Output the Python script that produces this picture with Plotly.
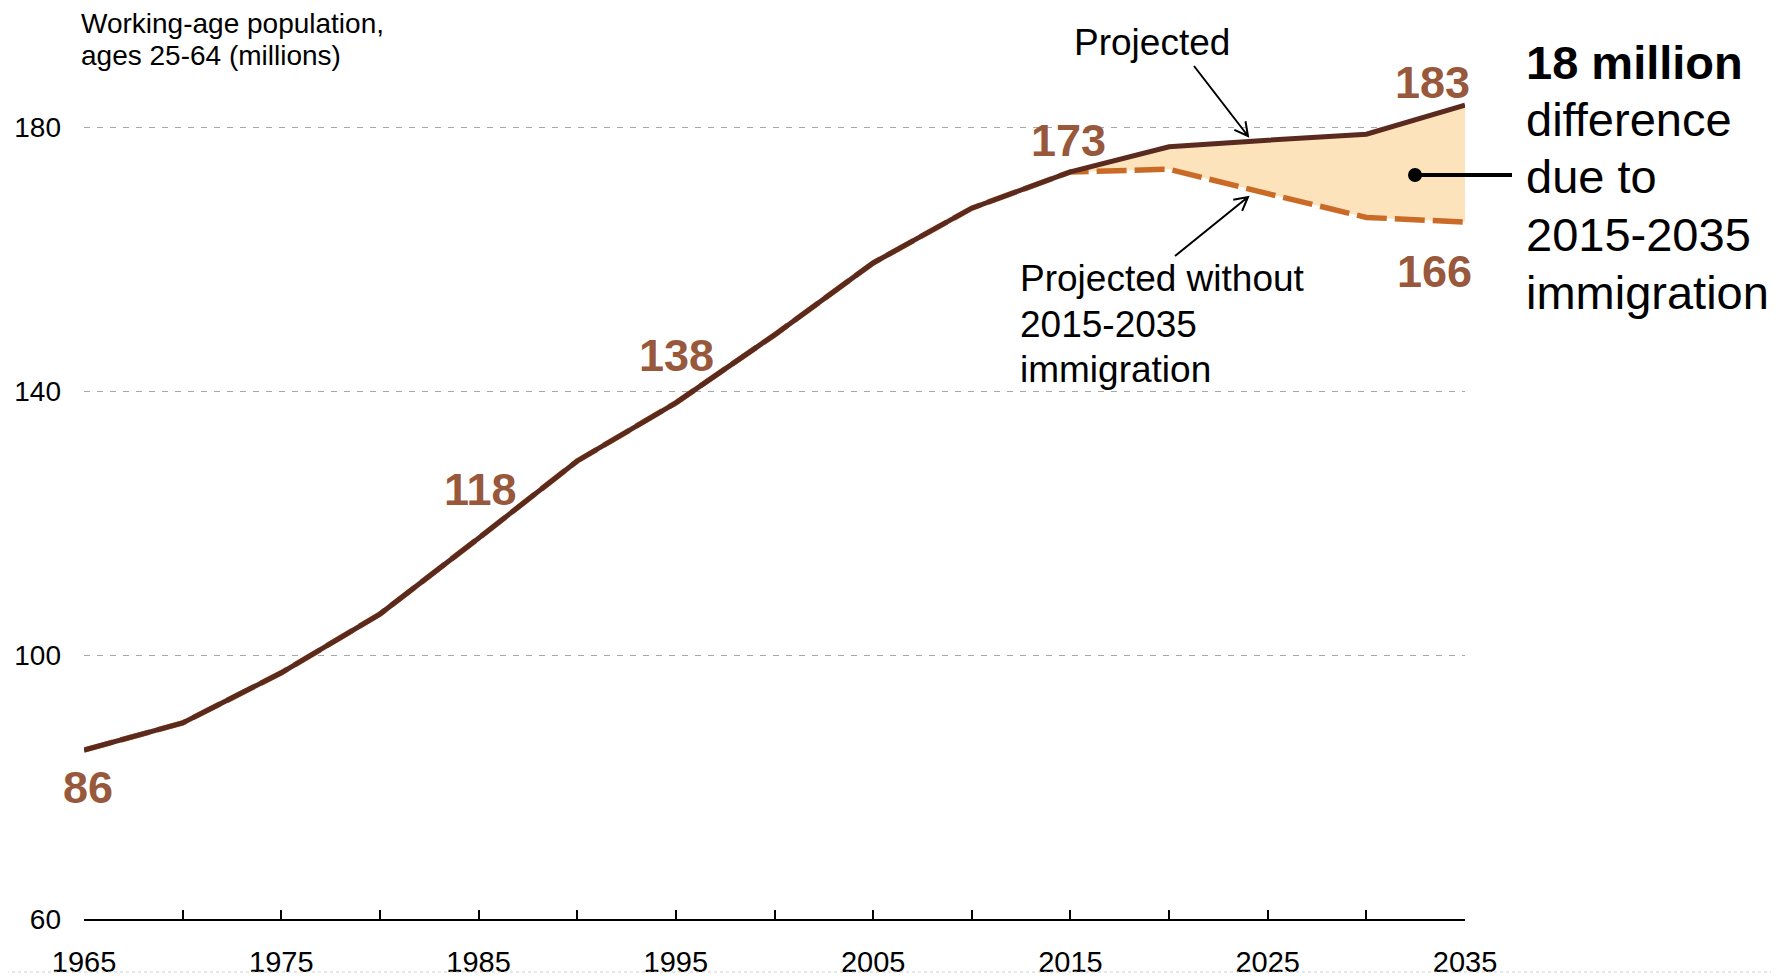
import math
import plotly.graph_objects as go

# ---------------- data ----------------
years = [1965, 1970, 1975, 1980, 1985, 1990, 1995, 2000, 2005, 2010, 2015, 2020, 2025, 2030, 2035]
projected = [85.6, 89.7, 97.3, 106.2, 117.7, 129.4, 138.2, 148.5, 159.4, 167.7, 173.2, 177.0, 178.0, 178.9, 183.3]
without_immigration = [85.6, 89.7, 97.3, 106.2, 117.7, 129.4, 138.2, 148.5, 159.4, 167.7, 173.2, 173.6, 169.9, 166.3, 165.6]
proj_start_year = 2015
x_tick_vals = [1965, 1970, 1975, 1980, 1985, 1990, 1995, 2000, 2005, 2010, 2015, 2020, 2025, 2030, 2035]
x_tick_text = ["1965", "", "1975", "", "1985", "", "1995", "", "2005", "", "2015", "", "2025", "", "2035"]
y_tick_vals = [60, 100, 140, 180]
y_tick_text = ["60", "100", "140", "180"]

# ---------------- layout geometry ----------------
W, H = 1779, 976
OFF = 8  # page offset of the figure in the browser
L, R, T, B = 76, 322, 53, 65
PW, PH = W - L - R, H - T - B
XR = [1965, 2035]
YR = [60, 190]
PX_PER_YEAR = PW / (XR[1] - XR[0])
PX_PER_UNIT = PH / (YR[1] - YR[0])

FONT = "Liberation Sans, Arial, sans-serif"
DARK = "#5A2A1F"
ORANGE = "#CA6A27"
FILL = "#FCE3BC"
LABEL = "#97583B"


def paper(px, py):
    # px, py: screen coordinates
    fx, fy = px - OFF, py - OFF
    return (fx - L) / PW, (H - B - fy) / PH


def data_to_px(x, y):
    return L + OFF + (x - XR[0]) * PX_PER_YEAR, H - B + OFF - (y - YR[0]) * PX_PER_UNIT


def px_to_data(px, py):
    return XR[0] + (px - OFF - L) / PX_PER_YEAR, YR[0] + (H - B + OFF - py) / PX_PER_UNIT


fig = go.Figure()

# shaded difference 2015-2035
idx = [i for i, y in enumerate(years) if y >= proj_start_year]
fig.add_trace(go.Scatter(x=[years[i] for i in idx], y=[without_immigration[i] for i in idx],
                         mode="lines", line=dict(width=0, color=FILL), hoverinfo="skip", showlegend=False))
fig.add_trace(go.Scatter(x=[years[i] for i in idx], y=[projected[i] for i in idx],
                         mode="lines", line=dict(width=0, color=FILL), fill="tonexty", fillcolor=FILL,
                         hoverinfo="skip", showlegend=False))

# without immigration (dashed)
fig.add_trace(go.Scatter(x=years, y=without_immigration, mode="lines",
                         line=dict(color=ORANGE, width=5.5, dash="30px,8px"), showlegend=False))
# projected (solid)
fig.add_trace(go.Scatter(x=years, y=projected, mode="lines",
                         line=dict(color=DARK, width=5), showlegend=False))

annotations = []


def text_px(txt, px, py, size, xanchor="center", bold=False, color="black"):
    xp, yp = paper(px, py)
    annotations.append(dict(text=("<b>%s</b>" % txt) if bold else txt, x=xp, y=yp, xref="paper", yref="paper",
                            xanchor=xanchor, yanchor="middle", showarrow=False,
                            font=dict(family=FONT, size=size, color=color)))


# axis title
text_px("Working-age population,", 79, 23, 28, xanchor="left")
text_px("ages 25-64 (millions)", 79, 56, 28, xanchor="left")

# series labels
text_px("Projected", 1152, 43, 37)
for i, line in enumerate(["Projected without", "2015-2035", "immigration"]):
    text_px(line, 1018, 279 + i * 45.5, 37, xanchor="left")

# difference annotation
diff = round(projected[-1] - without_immigration[-1])
right_lines = ["%d million" % diff, "difference", "due to", "2015-2035", "immigration"]
for i, line in enumerate(right_lines):
    text_px(line, 1524, 62 + i * 57.5, 47, xanchor="left", bold=(i == 0))

# value labels (offsets in px from the data point)
label_specs = [(1965, without_immigration, 4, 37), (1985, projected, 2, -49), (1995, projected, 1, -47),
               (2015, projected, -2, -31), (2035, projected, -33, -23), (2035, without_immigration, -31, 49)]
for yr, series, dx, dy in label_specs:
    v = series[years.index(yr)]
    px, py = data_to_px(yr, v)
    text_px("%d" % round(v), px + dx, py + dy, 45, bold=True, color=LABEL)

shapes = []


def v_arrow(p0, p1, head=15, ang=28):
    x0, y0 = p0
    x1, y1 = p1
    a = math.atan2(y1 - y0, x1 - x0)
    pts = []
    for s in (1, -1):
        b = a + math.pi - s * math.radians(ang)
        pts.append((x1 + head * math.cos(b), y1 + head * math.sin(b)))

    def d(p):
        dx, dy = px_to_data(*p)
        return "%.4f,%.4f" % (dx, dy)
    path = "M%s L%s M%s L%s L%s" % (d(p0), d(p1), d(pts[0]), d(p1), d(pts[1]))
    shapes.append(dict(type="path", path=path, xref="x", yref="y", line=dict(color="black", width=2)))


v_arrow((1194, 66), (1248, 136))
v_arrow((1175, 256), (1248, 197))

# dot and connector line
dx0, dy0 = paper(1415, 175)
dx1, _ = paper(1512, 175)
shapes.append(dict(type="line", xref="paper", yref="paper", x0=dx0, x1=dx1, y0=dy0, y1=dy0,
                   line=dict(color="black", width=4)))
r = 7
cx0, cy0 = paper(1415 - r, 175 + r)
cx1, cy1 = paper(1415 + r, 175 - r)
shapes.append(dict(type="circle", xref="paper", yref="paper", x0=cx0, x1=cx1, y0=cy0, y1=cy1,
                   fillcolor="black", line=dict(color="black", width=0)))

# faint dotted border at bottom
bx0, by = paper(0, 972)
bx1, _ = paper(W, 972)
shapes.append(dict(type="line", xref="paper", yref="paper", x0=bx0, x1=bx1, y0=by, y1=by,
                   line=dict(color="#CFCFCF", width=1, dash="dot")))

fig.update_layout(
    width=W, height=H, autosize=False,
    margin=dict(l=L, r=R, t=T, b=B, pad=0, autoexpand=False),
    paper_bgcolor="white", plot_bgcolor="white",
    showlegend=False,
    annotations=annotations, shapes=shapes,
    font=dict(family=FONT, color="black"),
    xaxis=dict(range=XR, tickvals=x_tick_vals, ticktext=x_tick_text, ticks="inside", ticklen=9,
               tickwidth=1.5, tickcolor="black", showline=True, linecolor="black", linewidth=2,
               showgrid=False, zeroline=False, tickfont=dict(family=FONT, size=29, color="black"),
               ticklabelstandoff=16, automargin=False),
    yaxis=dict(range=YR, tickvals=y_tick_vals, ticktext=y_tick_text, ticks="", showline=False,
               showgrid=True, gridcolor="#A8A8A8", gridwidth=1, griddash="6px,7px", zeroline=False,
               tickfont=dict(family=FONT, size=28, color="black"), ticklabelstandoff=22,
               automargin=False),
)

fig.write_html("out.html")
